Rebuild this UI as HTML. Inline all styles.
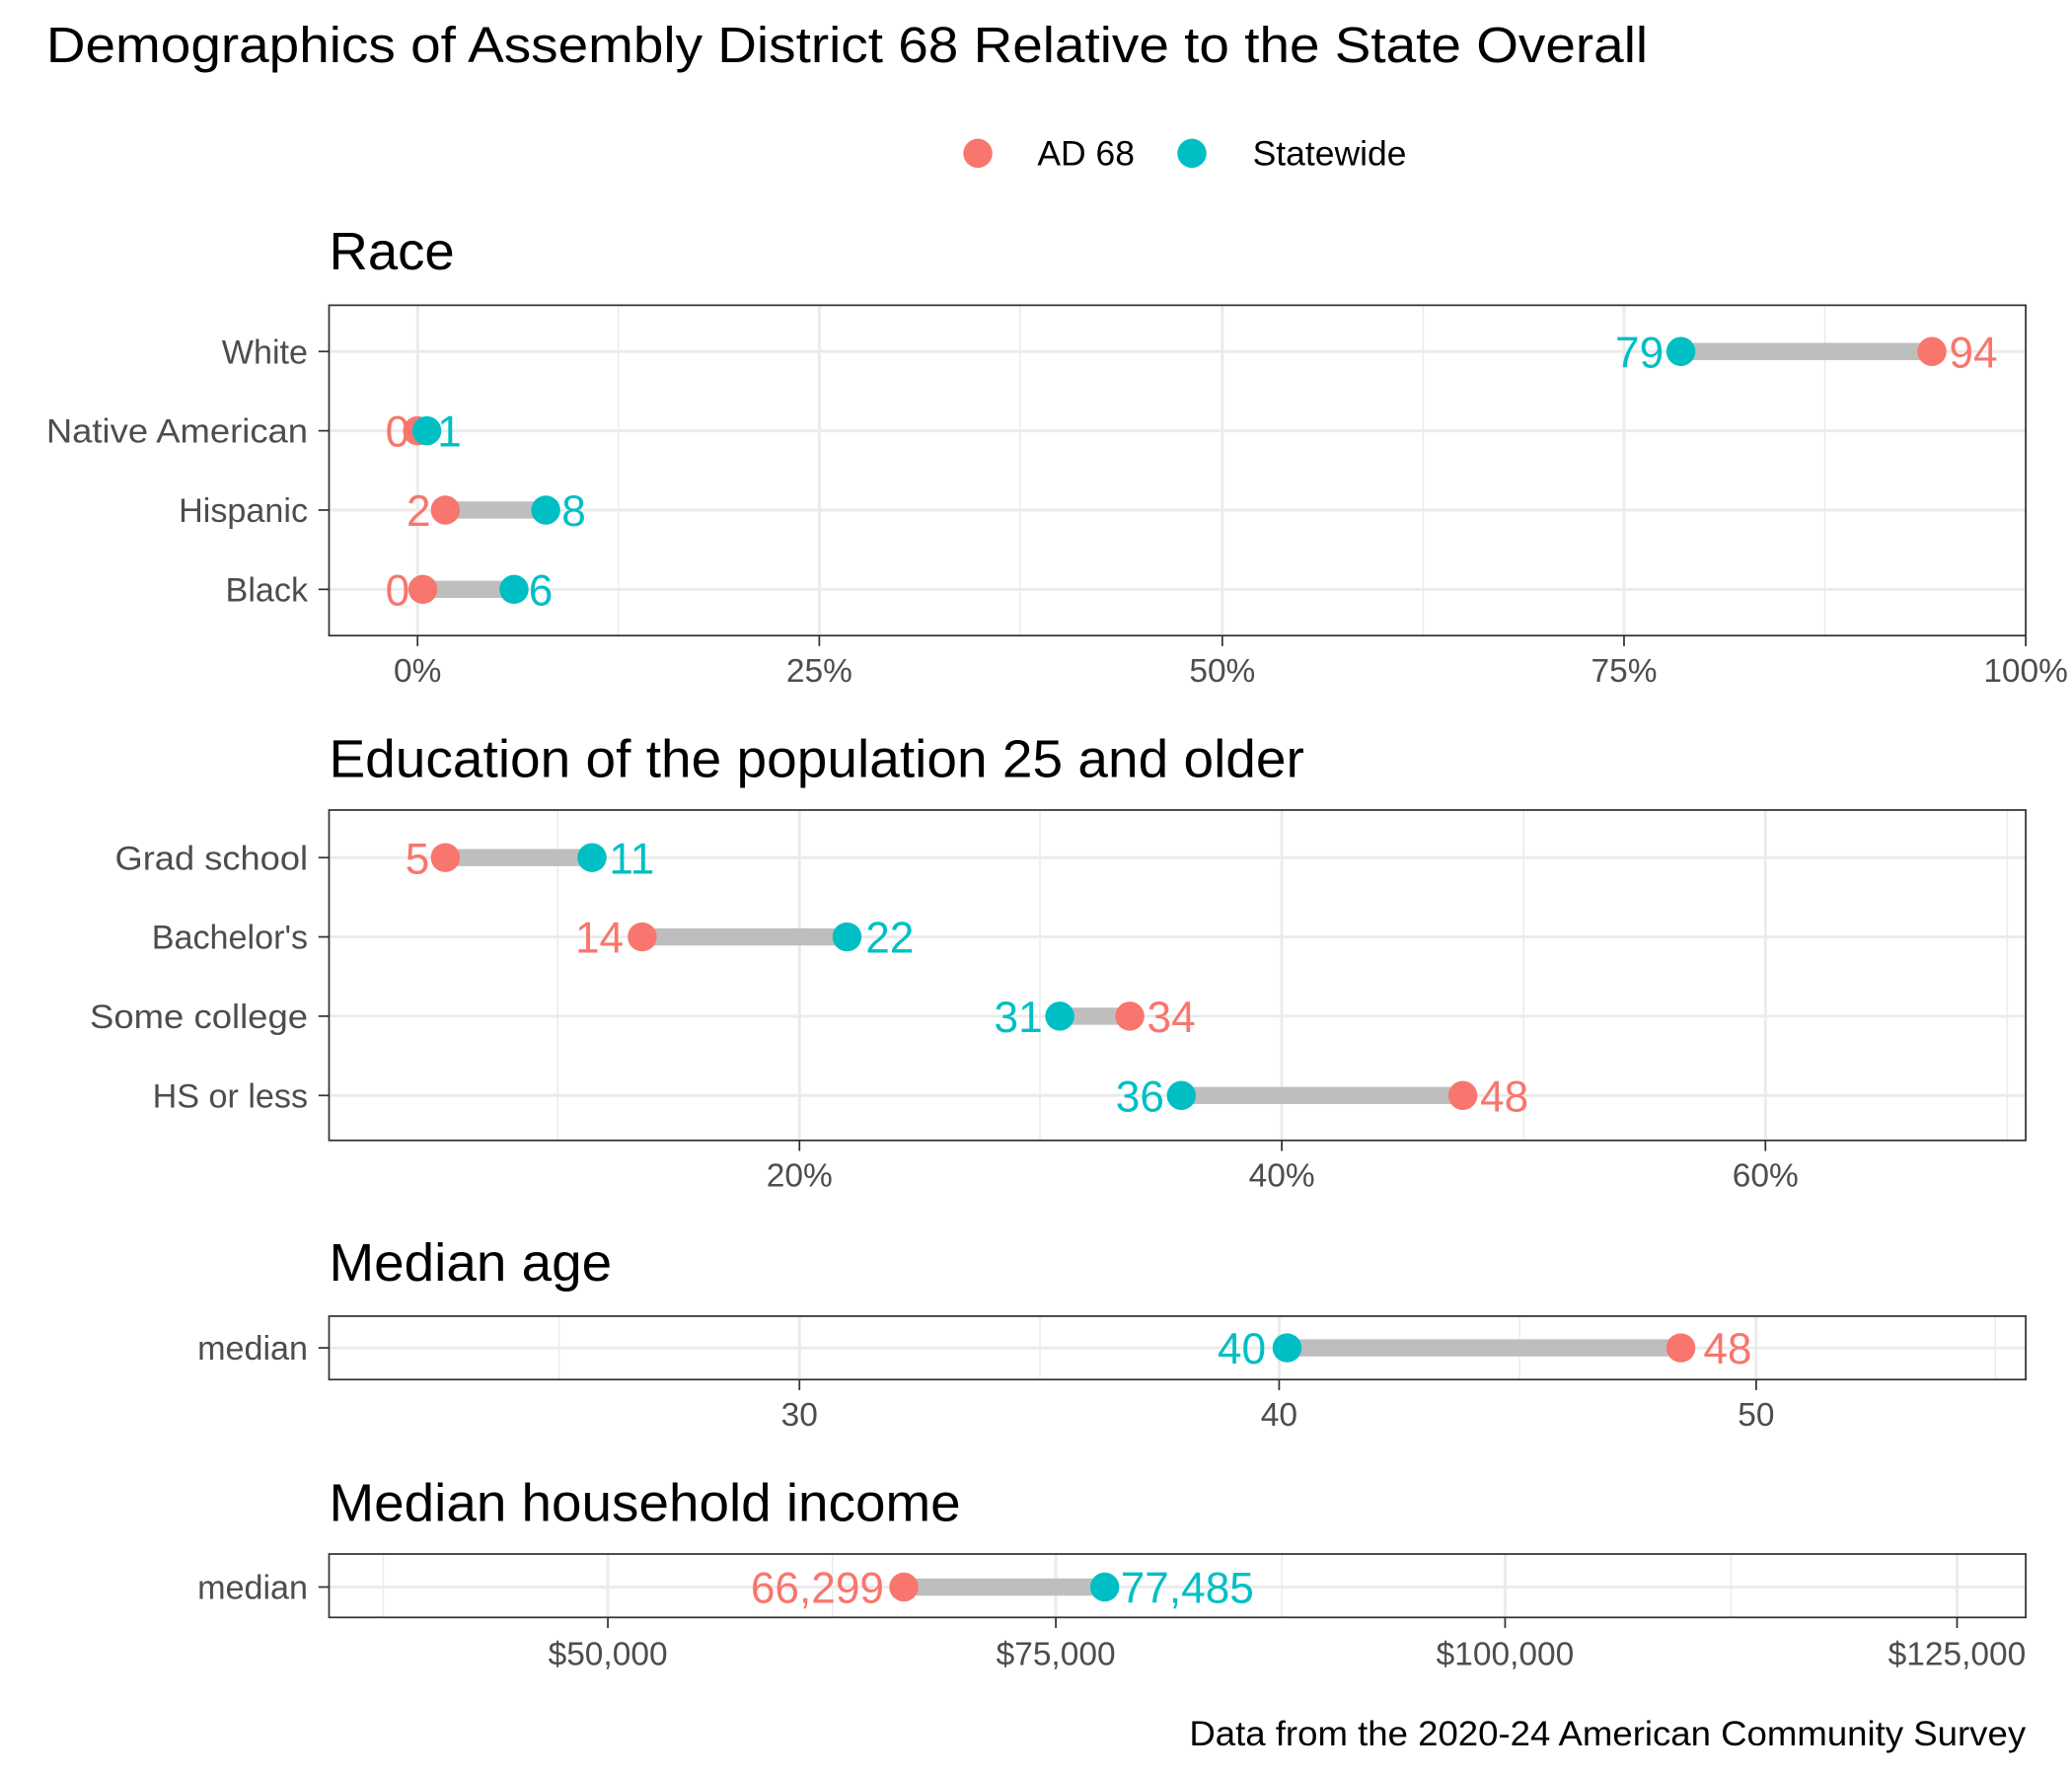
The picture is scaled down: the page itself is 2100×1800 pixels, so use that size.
<!DOCTYPE html>
<html><head><meta charset="utf-8"><style>
html,body{margin:0;padding:0;background:#fff;}
svg{display:block;}
text{font-family:"Liberation Sans",sans-serif;}
.ax{fill:#4D4D4D;font-size:25px;}
.yl{fill:#4D4D4D;font-size:25.5px;text-anchor:end;}
.pt{font-size:40px;fill:#000;}
.dl{font-size:33px;}
.r{fill:#F8766D;}
.t{fill:#00BFC4;}
.gM{stroke:#EBEBEB;stroke-width:2.2;}
.gm{stroke:#EBEBEB;stroke-width:1.1;}
.box{fill:none;stroke:#333;stroke-width:1.3;}
.seg{stroke:#BEBEBE;stroke-width:13;}
.tk{stroke:#333;stroke-width:1.3;}
</style></head><body>
<svg width="2100" height="1800" viewBox="0 0 1568 1344" xmlns="http://www.w3.org/2000/svg">
<rect width="1568" height="1344" fill="#fff"/>
<text x="35" y="47" font-size="38" textLength="1212" lengthAdjust="spacingAndGlyphs">Demographics of Assembly District 68 Relative to the State Overall</text>
<circle cx="740" cy="116" r="11" fill="#F8766D"/><text x="785" y="125" font-size="26.5">AD 68</text>
<circle cx="902" cy="116" r="11" fill="#00BFC4"/><text x="948" y="125" font-size="26.5">Statewide</text>

<!-- Race -->
<text class="pt" x="249" y="204" textLength="95" lengthAdjust="spacingAndGlyphs">Race</text>
<g>
<line class="gm" x1="468" y1="231" x2="468" y2="481"/><line class="gm" x1="772" y1="231" x2="772" y2="481"/><line class="gm" x1="1077" y1="231" x2="1077" y2="481"/><line class="gm" x1="1381" y1="231" x2="1381" y2="481"/>
<line class="gM" x1="316" y1="231" x2="316" y2="481"/><line class="gM" x1="620" y1="231" x2="620" y2="481"/><line class="gM" x1="925" y1="231" x2="925" y2="481"/><line class="gM" x1="1229" y1="231" x2="1229" y2="481"/>
<line class="gM" x1="249" y1="266" x2="1533" y2="266"/><line class="gM" x1="249" y1="326" x2="1533" y2="326"/><line class="gM" x1="249" y1="386" x2="1533" y2="386"/><line class="gM" x1="249" y1="446" x2="1533" y2="446"/>
<line class="seg" x1="1272" y1="266" x2="1462" y2="266"/>
<line class="seg" x1="316" y1="326" x2="323" y2="326"/>
<line class="seg" x1="337" y1="386" x2="413" y2="386"/>
<line class="seg" x1="320" y1="446" x2="389" y2="446"/>
<circle cx="1462" cy="266" r="11" fill="#F8766D"/><circle cx="1272" cy="266" r="11" fill="#00BFC4"/>
<circle cx="316" cy="326" r="11" fill="#F8766D"/><circle cx="323" cy="326" r="11" fill="#00BFC4"/>
<circle cx="337" cy="386" r="11" fill="#F8766D"/><circle cx="413" cy="386" r="11" fill="#00BFC4"/>
<circle cx="320" cy="446" r="11" fill="#F8766D"/><circle cx="389" cy="446" r="11" fill="#00BFC4"/>
<text class="dl t" x="1259" y="278" text-anchor="end">79</text><text class="dl r" x="1475" y="278">94</text>
<text class="dl r" x="310" y="338" text-anchor="end">0</text><text class="dl t" x="331" y="338">1</text>
<text class="dl r" x="326" y="398" text-anchor="end">2</text><text class="dl t" x="425" y="398">8</text>
<text class="dl r" x="310" y="458" text-anchor="end">0</text><text class="dl t" x="400" y="458">6</text>
<rect class="box" x="249" y="231" width="1284" height="250"/>
<text class="yl" x="233" y="275">White</text><text class="yl" x="233" y="335" textLength="198" lengthAdjust="spacingAndGlyphs">Native American</text><text class="yl" x="233" y="395">Hispanic</text><text class="yl" x="233" y="455">Black</text>
<line class="tk" x1="241" y1="266" x2="249" y2="266"/><line class="tk" x1="241" y1="326" x2="249" y2="326"/><line class="tk" x1="241" y1="386" x2="249" y2="386"/><line class="tk" x1="241" y1="446" x2="249" y2="446"/>
<line class="tk" x1="316" y1="481" x2="316" y2="489"/><line class="tk" x1="620" y1="481" x2="620" y2="489"/><line class="tk" x1="925" y1="481" x2="925" y2="489"/><line class="tk" x1="1229" y1="481" x2="1229" y2="489"/><line class="tk" x1="1533" y1="481" x2="1533" y2="489"/>
<text class="ax" x="316" y="516" text-anchor="middle">0%</text><text class="ax" x="620" y="516" text-anchor="middle">25%</text><text class="ax" x="925" y="516" text-anchor="middle">50%</text><text class="ax" x="1229" y="516" text-anchor="middle">75%</text><text class="ax" x="1533" y="516" text-anchor="middle">100%</text>
</g>

<!-- Education -->
<text class="pt" x="249" y="588" textLength="738" lengthAdjust="spacingAndGlyphs">Education of the population 25 and older</text>
<g>
<line class="gm" x1="422" y1="613" x2="422" y2="863"/><line class="gm" x1="787" y1="613" x2="787" y2="863"/><line class="gm" x1="1153" y1="613" x2="1153" y2="863"/><line class="gm" x1="1519" y1="613" x2="1519" y2="863"/>
<line class="gM" x1="605" y1="613" x2="605" y2="863"/><line class="gM" x1="970" y1="613" x2="970" y2="863"/><line class="gM" x1="1336" y1="613" x2="1336" y2="863"/>
<line class="gM" x1="249" y1="649" x2="1533" y2="649"/><line class="gM" x1="249" y1="709" x2="1533" y2="709"/><line class="gM" x1="249" y1="769" x2="1533" y2="769"/><line class="gM" x1="249" y1="829" x2="1533" y2="829"/>
<line class="seg" x1="337" y1="649" x2="448" y2="649"/>
<line class="seg" x1="486" y1="709" x2="641" y2="709"/>
<line class="seg" x1="802" y1="769" x2="855" y2="769"/>
<line class="seg" x1="894" y1="829" x2="1107" y2="829"/>
<circle cx="337" cy="649" r="11" fill="#F8766D"/><circle cx="448" cy="649" r="11" fill="#00BFC4"/>
<circle cx="486" cy="709" r="11" fill="#F8766D"/><circle cx="641" cy="709" r="11" fill="#00BFC4"/>
<circle cx="855" cy="769" r="11" fill="#F8766D"/><circle cx="802" cy="769" r="11" fill="#00BFC4"/>
<circle cx="1107" cy="829" r="11" fill="#F8766D"/><circle cx="894" cy="829" r="11" fill="#00BFC4"/>
<text class="dl r" x="325" y="661" text-anchor="end">5</text><text class="dl t" x="461" y="661">11</text>
<text class="dl r" x="472" y="721" text-anchor="end">14</text><text class="dl t" x="655" y="721">22</text>
<text class="dl t" x="789" y="781" text-anchor="end">31</text><text class="dl r" x="868" y="781">34</text>
<text class="dl t" x="881" y="841" text-anchor="end">36</text><text class="dl r" x="1120" y="841">48</text>
<rect class="box" x="249" y="613" width="1284" height="250"/>
<text class="yl" x="233" y="658" textLength="146" lengthAdjust="spacingAndGlyphs">Grad school</text><text class="yl" x="233" y="718">Bachelor's</text><text class="yl" x="233" y="778" textLength="165" lengthAdjust="spacingAndGlyphs">Some college</text><text class="yl" x="233" y="838">HS or less</text>
<line class="tk" x1="241" y1="649" x2="249" y2="649"/><line class="tk" x1="241" y1="709" x2="249" y2="709"/><line class="tk" x1="241" y1="769" x2="249" y2="769"/><line class="tk" x1="241" y1="829" x2="249" y2="829"/>
<line class="tk" x1="605" y1="863" x2="605" y2="871"/><line class="tk" x1="970" y1="863" x2="970" y2="871"/><line class="tk" x1="1336" y1="863" x2="1336" y2="871"/>
<text class="ax" x="605" y="898" text-anchor="middle">20%</text><text class="ax" x="970" y="898" text-anchor="middle">40%</text><text class="ax" x="1336" y="898" text-anchor="middle">60%</text>
</g>

<!-- Median age -->
<text class="pt" x="249" y="969" textLength="214" lengthAdjust="spacingAndGlyphs">Median age</text>
<g>
<line class="gm" x1="423" y1="996" x2="423" y2="1044"/><line class="gm" x1="787" y1="996" x2="787" y2="1044"/><line class="gm" x1="1150" y1="996" x2="1150" y2="1044"/><line class="gm" x1="1510" y1="996" x2="1510" y2="1044"/>
<line class="gM" x1="605" y1="996" x2="605" y2="1044"/><line class="gM" x1="968" y1="996" x2="968" y2="1044"/><line class="gM" x1="1329" y1="996" x2="1329" y2="1044"/>
<line class="gM" x1="249" y1="1020" x2="1533" y2="1020"/>
<line class="seg" x1="974" y1="1020" x2="1272" y2="1020"/>
<circle cx="1272" cy="1020" r="11" fill="#F8766D"/><circle cx="974" cy="1020" r="11" fill="#00BFC4"/>
<text class="dl t" x="958" y="1032" text-anchor="end">40</text><text class="dl r" x="1289" y="1032">48</text>
<rect class="box" x="249" y="996" width="1284" height="48"/>
<text class="yl" x="233" y="1029">median</text>
<line class="tk" x1="241" y1="1020" x2="249" y2="1020"/>
<line class="tk" x1="605" y1="1044" x2="605" y2="1052"/><line class="tk" x1="968" y1="1044" x2="968" y2="1052"/><line class="tk" x1="1329" y1="1044" x2="1329" y2="1052"/>
<text class="ax" x="605" y="1079" text-anchor="middle">30</text><text class="ax" x="968" y="1079" text-anchor="middle">40</text><text class="ax" x="1329" y="1079" text-anchor="middle">50</text>
</g>

<!-- Median household income -->
<text class="pt" x="249" y="1151" textLength="478" lengthAdjust="spacingAndGlyphs">Median household income</text>
<g>
<line class="gm" x1="290" y1="1176" x2="290" y2="1224"/><line class="gm" x1="630" y1="1176" x2="630" y2="1224"/><line class="gm" x1="970" y1="1176" x2="970" y2="1224"/><line class="gm" x1="1310" y1="1176" x2="1310" y2="1224"/>
<line class="gM" x1="460" y1="1176" x2="460" y2="1224"/><line class="gM" x1="799" y1="1176" x2="799" y2="1224"/><line class="gM" x1="1139" y1="1176" x2="1139" y2="1224"/><line class="gM" x1="1481" y1="1176" x2="1481" y2="1224"/>
<line class="gM" x1="249" y1="1201" x2="1533" y2="1201"/>
<line class="seg" x1="684" y1="1201" x2="836" y2="1201"/>
<circle cx="684" cy="1201" r="11" fill="#F8766D"/><circle cx="836" cy="1201" r="11" fill="#00BFC4"/>
<text class="dl r" x="669" y="1213" text-anchor="end">66,299</text><text class="dl t" x="848" y="1213">77,485</text>
<rect class="box" x="249" y="1176" width="1284" height="48"/>
<text class="yl" x="233" y="1210">median</text>
<line class="tk" x1="241" y1="1201" x2="249" y2="1201"/>
<line class="tk" x1="460" y1="1224" x2="460" y2="1232"/><line class="tk" x1="799" y1="1224" x2="799" y2="1232"/><line class="tk" x1="1139" y1="1224" x2="1139" y2="1232"/><line class="tk" x1="1481" y1="1224" x2="1481" y2="1232"/>
<text class="ax" x="460" y="1260" text-anchor="middle">$50,000</text><text class="ax" x="799" y="1260" text-anchor="middle">$75,000</text><text class="ax" x="1139" y="1260" text-anchor="middle">$100,000</text><text class="ax" x="1481" y="1260" text-anchor="middle">$125,000</text>
</g>

<text x="1533" y="1321" font-size="26" text-anchor="end" textLength="633" lengthAdjust="spacingAndGlyphs">Data from the 2020-24 American Community Survey</text>
</svg>
</body></html>
